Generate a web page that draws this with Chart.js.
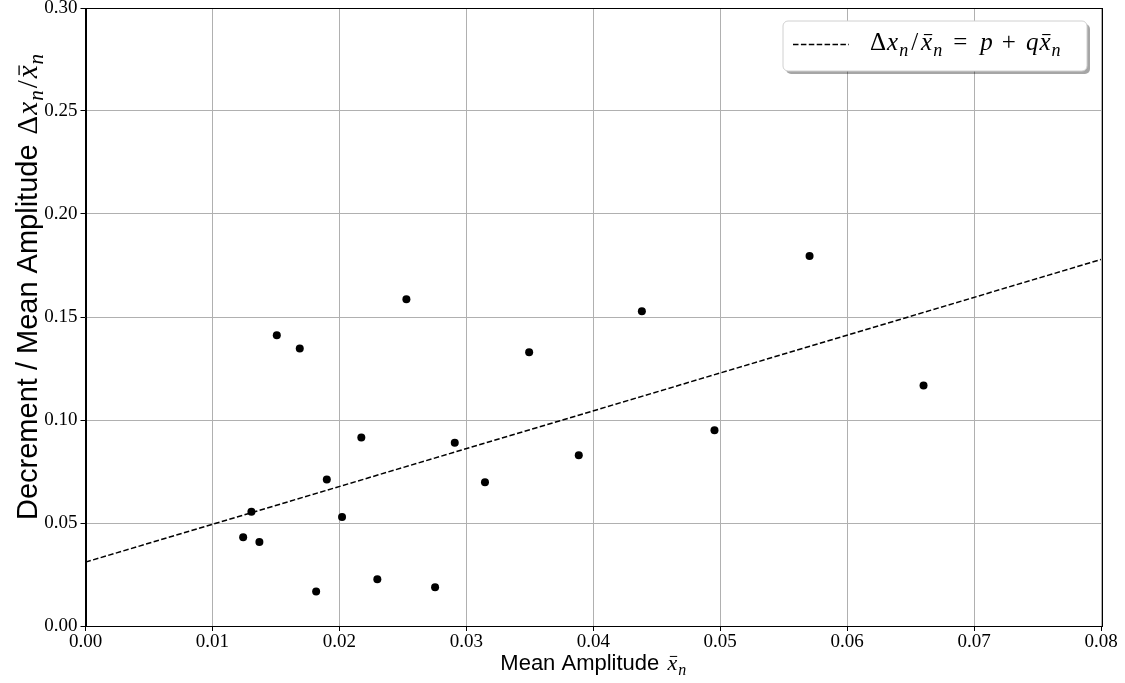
<!DOCTYPE html>
<html>
<head>
<meta charset="utf-8">
<script src="https://cdn.jsdelivr.net/npm/chart.js@4.4.1/dist/chart.umd.min.js"></script>
<style>
  body { margin: 0; background: #fff; }
  #wrap { width: 1125px; height: 683px; }
</style>
</head>
<body>
<div id="wrap"><canvas id="chart" width="1125" height="683"></canvas></div>
<script>
// measured points (mean amplitude, decrement / mean amplitude)
const meanAmp = [0.01242, 0.01307, 0.01370, 0.01507, 0.01688, 0.01817, 0.01901, 0.02021, 0.02173, 0.02299,
                 0.02528, 0.02754, 0.02909, 0.03147, 0.03495, 0.03886, 0.04383, 0.04955, 0.05704, 0.06602];
const decRatio = [0.0431, 0.0555, 0.0408, 0.1411, 0.1347, 0.0168, 0.0711, 0.0529, 0.0915, 0.0227,
                  0.1586, 0.0188, 0.0890, 0.0698, 0.1329, 0.0829, 0.1528, 0.0950, 0.1796, 0.1168];

// fitted line p + q*x, end points
const fitX = [0, 0.08];
const fitY = [0.031, 0.1779];

const xTicks = [0, 0.01, 0.02, 0.03, 0.04, 0.05, 0.06, 0.07, 0.08];
const yTicks = [0, 0.05, 0.10, 0.15, 0.20, 0.25, 0.30];

const SERIF = "'Liberation Serif', 'DejaVu Serif', serif";
const SANS = "'Liberation Sans', 'DejaVu Sans', sans-serif";

// text with a bit of math in it: list of [text, kind, extra gap after]
// kinds: sans, rm, it, sub, bar (italic with overline)
function runFont(kind, size) {
  if (kind === "sans") return size + "px " + SANS;
  if (kind === "rm") return size + "px " + SERIF;
  if (kind === "sub") return "italic " + Math.round(size * 0.72) + "px " + SERIF;
  return "italic " + size + "px " + SERIF;
}

function runsWidth(ctx, runs, size) {
  let w = 0;
  for (const [t, k, gap] of runs) {
    ctx.font = runFont(k, size);
    w += ctx.measureText(t).width + (gap || 0);
  }
  return w;
}

function drawRuns(ctx, runs, size, x, y) {
  // x is left edge, y is baseline
  ctx.textBaseline = "alphabetic";
  ctx.textAlign = "left";
  for (const [t, k, gap] of runs) {
    ctx.font = runFont(k, size);
    const w = ctx.measureText(t).width;
    const dy = k === "sub" ? size * 0.22 : 0;
    ctx.fillText(t, x, y + dy);
    if (k === "bar") {
      ctx.fillRect(x + w * 0.25, y - size * 0.64, w * 0.75, Math.max(1, size * 0.045));
    }
    x += w + (gap || 0);
  }
}

const xTitle = [["Mean Amplitude ", "sans", 2], ["x", "bar", 1], ["n", "sub"]];
const yTitle = [["Decrement / Mean Amplitude ", "sans", 2], ["\u0394", "rm", 1], ["x", "it", 1], ["n", "sub", 2],
                ["/", "rm", 2], ["x", "bar", 1], ["n", "sub"]];
const legendText = [["\u0394", "rm", 1], ["x", "it", 1], ["n", "sub", 3], ["/", "rm", 3], ["x", "bar", 1], ["n", "sub", 11],
                    ["=", "rm", 13], ["p", "it", 9], ["+", "rm", 10], ["q", "it", 1], ["x", "bar", 1], ["n", "sub"]];

const decor = {
  id: "decor",
  afterDraw(chart) {
    const ctx = chart.ctx;
    const a = chart.chartArea;
    ctx.save();
    // frame
    ctx.strokeStyle = "#000";
    ctx.lineWidth = 1;
    ctx.strokeRect(Math.round(a.left) + 0.5, Math.round(a.top) + 0.5,
                   Math.round(a.right - a.left), Math.round(a.bottom - a.top));
    ctx.fillStyle = "#000";

    // x axis title
    let ts = 22;
    let w = runsWidth(ctx, xTitle, ts);
    drawRuns(ctx, xTitle, ts, (a.left + a.right) / 2 - w / 2, 670);

    // y axis title, rotated, a bit larger
    ts = 29;
    ctx.save();
    ctx.translate(37, 520);
    ctx.rotate(-Math.PI / 2);
    drawRuns(ctx, yTitle, ts, 0, 0);
    ctx.restore();

    // legend box with shadow
    const bx = 783, by = 21, bw = 304, bh = 50;
    ctx.fillStyle = "rgba(0,0,0,0.35)";
    ctx.beginPath();
    ctx.roundRect(bx + 3, by + 3, bw, bh, 5);
    ctx.fill();
    ctx.fillStyle = "#fff";
    ctx.strokeStyle = "#d0d0d0";
    ctx.beginPath();
    ctx.roundRect(bx, by, bw, bh, 5);
    ctx.fill();
    ctx.stroke();
    ctx.strokeStyle = "#000";
    ctx.lineWidth = 1.5;
    ctx.setLineDash([5.5, 2.4]);
    ctx.beginPath();
    ctx.moveTo(793, 44.5);
    ctx.lineTo(849, 44.5);
    ctx.stroke();
    ctx.setLineDash([]);
    ctx.fillStyle = "#000";
    drawRuns(ctx, legendText, 25, 870, 50);
    ctx.restore();
  }
};

new Chart(document.getElementById("chart"), {
  type: "scatter",
  plugins: [decor],
  data: {
    datasets: [
      {
        label: "fit",
        data: fitX.map((x, i) => ({ x: x, y: fitY[i] })),
        showLine: true,
        borderColor: "#000",
        borderWidth: 1.5,
        borderDash: [5.5, 2.4],
        pointRadius: 0,
        fill: false,
        order: 2
      },
      {
        label: "data",
        data: meanAmp.map((x, i) => ({ x: x, y: decRatio[i] })),
        backgroundColor: "#000",
        borderWidth: 0,
        pointRadius: 4,
        order: 1
      }
    ]
  },
  options: {
    responsive: false,
    animation: false,
    layout: { padding: { left: 0, right: 24, top: 8, bottom: 0 } },
    plugins: {
      legend: { display: false },
      tooltip: { enabled: false }
    },
    scales: {
      x: {
        type: "linear",
        min: 0,
        max: 0.08,
        afterBuildTicks: (s) => { s.ticks = xTicks.map(v => ({ value: v })); },
        afterFit: (s) => { s.height = 57; s.paddingLeft = 0; s.paddingRight = 0; },
        grid: { color: "#b0b0b0", lineWidth: 1, tickLength: 5, tickColor: "#000" },
        border: { color: "#000", width: 1 },
        ticks: {
          padding: 0,
          color: "#000",
          font: { family: SERIF, size: 19 },
          maxRotation: 0,
          callback: (v) => v.toFixed(2)
        }
      },
      y: {
        type: "linear",
        min: 0,
        max: 0.3,
        afterBuildTicks: (s) => { s.ticks = yTicks.map(v => ({ value: v })); },
        afterFit: (s) => { s.width = 85.5; s.paddingTop = 0; s.paddingBottom = 0; },
        grid: { color: "#b0b0b0", lineWidth: 1, tickLength: 5, tickColor: "#000" },
        border: { color: "#000", width: 1 },
        ticks: {
          padding: 3,
          color: "#000",
          font: { family: SERIF, size: 19 },
          callback: (v) => v.toFixed(2)
        }
      }
    }
  }
});
</script>
</body>
</html>
